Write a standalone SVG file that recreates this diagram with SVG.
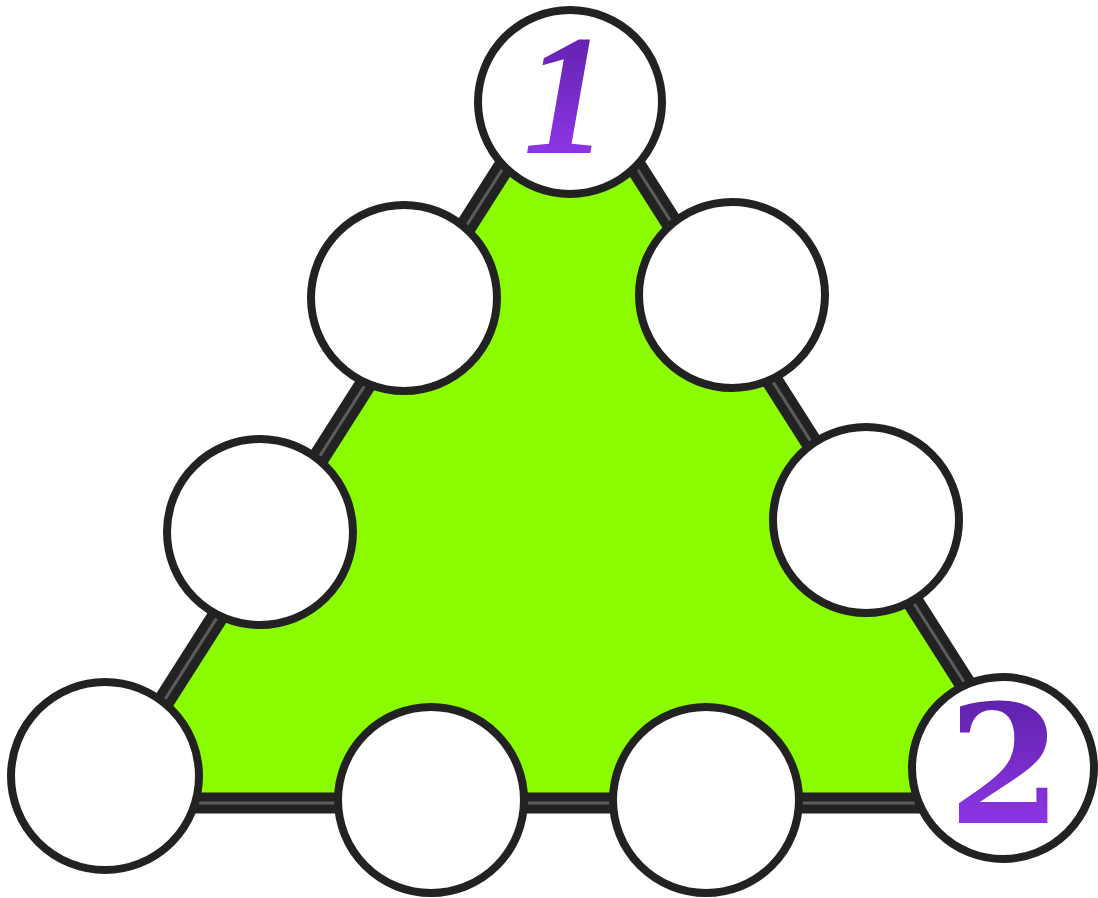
<svg xmlns="http://www.w3.org/2000/svg" width="1098" height="898" viewBox="0 0 1098 898">
<defs>
<linearGradient id="pg" x1="0" y1="0" x2="0" y2="1">
<stop offset="0" stop-color="#561c9e"/>
<stop offset="1" stop-color="#9a3cf6"/>
</linearGradient>
<style>
.node{fill:#ffffff;stroke:#222222;stroke-width:8}
.num{font-family:"Liberation Serif","DejaVu Serif",serif;font-weight:bold;font-size:172px;fill:url(#pg);text-anchor:middle}
.num2{font-family:"DejaVu Serif",serif;font-weight:bold;font-size:164px;fill:url(#pg);text-anchor:middle}
</style>
</defs>
<g id="connectors">
<polygon points="570,63 99,803 1041,803" fill="#8bfb00" stroke="#222222" stroke-width="21" stroke-linejoin="round"/>
<polygon points="570,63 99,803 1041,803" fill="none" stroke="#5c5c5c" stroke-width="3"/>
</g>
<g id="n1"><circle class="node" cx="570" cy="102" r="92"/><text class="num" x="566" y="153" font-style="italic">1</text></g>
<g id="n2"><circle class="node" cx="404" cy="298" r="93"/></g>
<g id="n3"><circle class="node" cx="732" cy="295" r="93"/></g>
<g id="n4"><circle class="node" cx="260" cy="532" r="93"/></g>
<g id="n5"><circle class="node" cx="866" cy="520" r="93"/></g>
<g id="n6"><circle class="node" cx="105" cy="776" r="94"/></g>
<g id="n7"><circle class="node" cx="431" cy="800" r="93"/></g>
<g id="n8"><circle class="node" cx="706" cy="800" r="93"/></g>
<g id="n9"><circle class="node" cx="1003" cy="768" r="91"/><text class="num2" x="1005" y="823">2</text></g>
</svg>
